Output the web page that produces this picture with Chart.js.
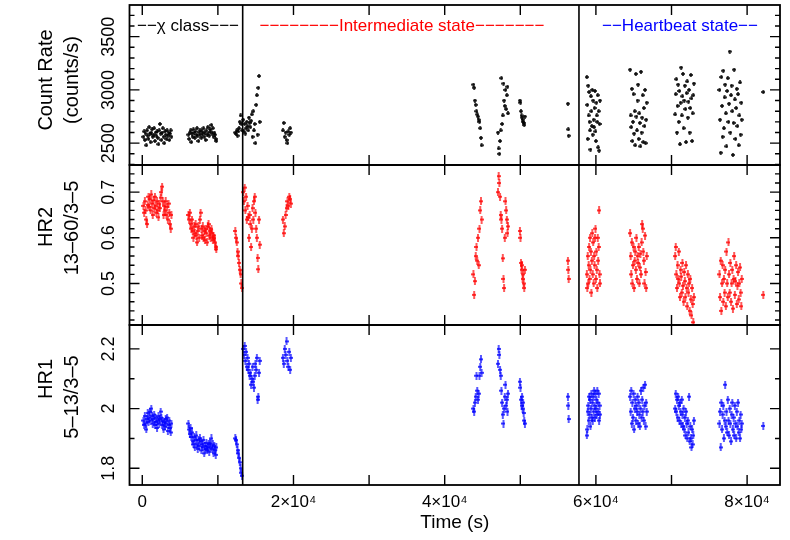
<!DOCTYPE html>
<html>
<head>
<meta charset="utf-8">
<script src="https://cdn.jsdelivr.net/npm/chart.js@4.4.1/dist/chart.umd.min.js"></script>
<style>
  html, body { margin: 0; padding: 0; background: #fff; }
  canvas { display: block; }
</style>
</head>
<body>
<canvas id="lightCurve" width="790" height="540"></canvas>
<script>
// time bins (s), one entry per point; count rate / HR2 / HR1 share the same bins
const time = [
  // chi class
  150,245,340,435,530,625,720,815,910,1005,1100,1195,1290,1385,1480,1575,1670,1765,1860,1955,
  2050,2145,2240,2335,2430,2525,2620,2715,2810,2905,3000,3095,3190,3285,3380,3475,3570,3665,3760,3855,
  6100,6195,6290,6385,6480,6575,6670,6765,6860,6955,7050,7145,7240,7335,7430,7525,7620,7715,7810,7905,
  8000,8095,8190,8285,8380,8475,8570,8665,8760,8855,8950,9045,9140,9235,9330,9425,9520,9615,9710,9790,
  12300,12400,12500,12600,12700,12800,12900,13000,13100,13200,
  // intermediate state
  13350,13445,13540,13635,13730,13825,13920,14015,14110,14205,14300,14395,14490,14585,14680,14775,14870,14965,15060,15155,
  15250,15345,15440,15535,
  18600,18720,18840,18960,19080,19200,19320,19440,19560,19650,
  43800,43900,44000,44100,44200,44300,44400,44500,44600,44700,44800,44880,
  47050,47140,47230,47320,47410,47500,47590,47680,47770,47860,47950,48040,48130,48220,48300,48370,
  49950,50020,50090,50160,50230,50300,50370,50440,50520,50610,
  56300,56350,56400,
  // heartbeat state
  58800,58860,58920,58980,59040,59100,59160,59220,59280,59340,59400,59460,59520,59580,59640,59700,59760,59820,59880,59940,
  60000,60060,60120,60180,60240,60300,60360,60420,60480,60540,
  64520,64600,64670,64750,64820,64900,64980,65050,65130,65200,65280,65360,65430,65510,65580,65660,65740,65810,65890,65960,
  66040,66120,66190,66270,66340,66420,66500,66570,66650,66720,
  70480,70560,70640,70720,70800,70880,70960,71040,71120,71200,71280,71360,71440,71520,71600,71680,71760,71840,71920,72000,
  72080,72160,72240,72320,72400,72480,72560,72640,72720,72800,72880,72960,
  76340,76420,76510,76590,76680,76760,76850,76930,77020,77100,77190,77270,77360,77440,77530,77610,77700,77780,77870,77950,
  78040,78120,78210,78290,78380,78460,78550,78630,78720,78800,78890,78970,79060,79140,79230,79290,
  82140
];

const countRate = [
  2560,2610,2530,2590,2480,2620,2570,2540,2650,2590,2510,2600,2630,2560,2580,2640,2520,2600,2570,2610,
  2550,2490,2620,2680,2590,2530,2600,2640,2560,2500,2610,2580,2540,2620,2570,2600,2530,2590,2620,2560,
  2580,2540,2600,2620,2510,2590,2560,2630,2600,2550,2610,2580,2640,2570,2520,2600,2620,2580,2550,2610,
  2590,2640,2560,2600,2530,2620,2580,2650,2600,2570,2630,2610,2670,2590,2640,2560,2600,2580,2540,2520,
  2600,2590,2620,2570,2610,2640,2700,2760,2680,2620,
  2720,2610,2680,2590,2640,2700,2660,2620,2740,2690,2650,2710,2770,2560,2800,2620,2680,2500,2860,2950,
  2580,3020,3130,2700,
  2620,2690,2560,2600,2530,2500,2610,2580,2640,2600,
  3050,3020,2900,2860,2800,2770,2750,2720,2700,2640,2550,2480,
  2600,2450,2400,2520,2620,3110,2680,2760,3060,2900,2850,3000,2820,2950,3030,2780,
  2900,2880,2800,2760,2740,2720,2700,2690,2670,2750,
  2870,2630,2570,
  3120,2860,2540,3040,2760,2980,2700,2620,2440,2940,2800,2660,3000,2580,2900,2720,2650,2830,2990,2610,
  2520,2880,2760,2700,2950,2460,2800,2430,2680,2900,
  3190,2760,2650,3010,2520,2700,2960,2590,2800,2480,3150,2750,2620,2900,3050,2540,2780,2690,2470,3170,
  2600,2740,2950,2510,2830,2660,3000,2500,2720,2880,
  2770,2960,3100,2600,2850,3050,2700,2990,2490,2880,3210,2760,2940,3150,2640,2900,3040,2820,2510,2970,
  3080,2740,2890,3000,2600,2830,3140,2920,2520,2780,2950,3060,
  3000,2720,2410,3120,2850,2560,3180,2640,2930,3050,2780,2470,2990,3110,2700,2870,3360,2600,2950,3040,
  2800,2390,2690,3190,2910,2540,2830,3010,2660,2960,2480,2760,3070,2580,2880,2720,
  2980
];

const hr2 = [
  0.670,0.655,0.680,0.660,0.640,0.630,0.672,0.690,0.668,0.685,0.660,0.695,0.675,0.650,0.682,0.665,0.690,0.670,0.655,0.680,
  0.660,0.645,0.675,0.665,0.688,0.700,0.712,0.680,0.650,0.670,0.660,0.680,0.650,0.668,0.640,0.675,0.655,0.630,0.620,0.650,
  0.650,0.640,0.655,0.630,0.620,0.640,0.615,0.600,0.625,0.610,0.630,0.605,0.590,0.615,0.625,0.600,0.640,0.655,0.620,0.605,
  0.625,0.600,0.615,0.595,0.620,0.610,0.590,0.625,0.630,0.605,0.615,0.600,0.620,0.610,0.595,0.605,0.600,0.590,0.580,0.575,
  0.615,0.600,0.590,0.570,0.560,0.545,0.530,0.520,0.500,0.490,
  0.700,0.680,0.710,0.660,0.690,0.640,0.670,0.645,0.600,0.650,0.630,0.580,0.620,0.665,0.640,0.680,0.690,0.655,0.620,0.600,
  0.556,0.531,0.640,0.585,
  0.640,0.610,0.625,0.650,0.665,0.680,0.670,0.690,0.685,0.675,
  0.520,0.475,0.505,0.560,0.580,0.550,0.600,0.540,0.620,0.660,0.680,0.640,
  0.700,0.735,0.720,0.690,0.650,0.640,0.620,0.555,0.510,0.490,0.600,0.680,0.660,0.640,0.610,0.625,
  0.615,0.600,0.545,0.530,0.540,0.510,0.520,0.500,0.490,0.530,
  0.550,0.530,0.510,
  0.520,0.490,0.560,0.500,0.540,0.580,0.510,0.600,0.530,0.570,0.480,0.550,0.610,0.520,0.590,0.500,0.560,0.540,0.600,0.620,
  0.510,0.570,0.530,0.490,0.600,0.550,0.580,0.660,0.520,0.500,
  0.610,0.560,0.520,0.590,0.500,0.540,0.580,0.490,0.550,0.570,0.530,0.600,0.510,0.560,0.545,0.580,0.500,0.535,0.565,0.520,
  0.590,0.630,0.620,0.570,0.550,0.500,0.605,0.525,0.490,0.560,
  0.560,0.580,0.520,0.490,0.540,0.510,0.570,0.500,0.470,0.530,0.515,0.480,0.545,0.495,0.460,0.525,0.505,0.470,0.540,0.490,
  0.450,0.520,0.480,0.500,0.440,0.510,0.465,0.430,0.490,0.455,0.415,0.470,
  0.520,0.470,0.550,0.440,0.500,0.540,0.460,0.510,0.480,0.530,0.450,0.570,0.500,0.470,0.590,0.520,0.480,0.545,0.460,0.500,
  0.530,0.445,0.510,0.560,0.475,0.505,0.540,0.455,0.495,0.525,0.465,0.500,0.535,0.480,0.450,0.510,
  0.475
];

const hr1 = [
  1.960,1.945,1.975,1.950,1.930,1.965,1.985,1.955,1.970,1.990,1.960,2.000,1.975,1.950,1.965,1.980,1.945,1.970,1.955,1.935,
  1.960,1.975,1.950,1.965,1.990,1.970,1.945,1.960,1.930,1.955,1.940,1.965,1.950,1.970,1.925,1.945,1.960,1.935,1.920,1.950,
  1.950,1.930,1.915,1.935,1.905,1.920,1.890,1.880,1.905,1.870,1.895,1.910,1.880,1.865,1.895,1.875,1.900,1.890,1.860,1.880,
  1.870,1.895,1.850,1.875,1.865,1.885,1.860,1.870,1.880,1.855,1.885,1.870,1.900,1.865,1.880,1.850,1.875,1.860,1.845,1.870,
  1.900,1.895,1.880,1.860,1.850,1.835,1.820,1.800,1.785,1.775,
  2.200,2.180,2.210,2.160,2.190,2.140,2.170,2.130,2.150,2.110,2.120,2.080,2.100,2.140,2.090,2.070,2.110,2.150,2.130,2.170,
  2.030,2.040,2.120,2.160,
  2.170,2.150,2.200,2.180,2.225,2.160,2.140,2.190,2.130,2.170,
  2.000,1.990,2.020,2.040,2.110,2.060,2.030,2.050,2.110,2.140,2.165,2.120,
  2.150,2.200,2.180,2.130,2.110,2.060,2.020,1.980,1.950,2.000,2.040,2.080,2.010,2.030,1.990,2.050,
  2.090,2.070,2.030,2.010,2.040,2.000,2.020,1.985,1.960,1.950,
  2.040,2.010,1.965,
  1.910,1.930,1.990,2.010,1.960,2.040,1.980,2.030,1.940,2.000,2.050,1.970,2.020,1.960,2.040,1.990,2.060,2.010,1.970,2.050,
  2.000,2.030,1.980,2.060,2.020,1.990,2.050,1.960,2.010,1.980,
  2.040,1.990,2.060,1.950,2.020,1.970,2.050,1.930,2.000,2.030,1.960,2.010,1.990,2.040,1.950,2.020,1.980,1.940,2.000,2.060,
  1.970,2.030,1.990,2.070,1.960,2.010,2.080,1.940,2.020,1.990,
  2.000,2.050,1.990,2.030,1.970,2.040,2.010,1.960,2.020,1.990,1.950,2.030,1.980,1.940,2.000,1.930,1.970,1.910,1.990,1.950,
  1.900,1.960,1.920,2.040,1.890,1.940,1.900,1.870,1.930,1.880,1.910,1.960,
  1.950,1.990,1.870,2.020,1.930,1.980,2.010,1.900,1.960,2.080,1.940,1.990,1.920,2.030,1.960,1.910,2.000,1.950,1.890,1.980,
  2.020,1.930,1.970,1.910,2.010,1.950,1.900,1.990,1.940,2.020,1.920,1.960,1.900,1.980,1.930,1.950,
  1.942
];

// axis ticks
const timeTicks = [0, 20000, 40000, 60000, 80000];
const timeMinorTicks = [0, 10000, 20000, 30000, 40000, 50000, 60000, 70000, 80000];
const rateTicks = [2500, 3000, 3500];
const hr2Ticks = [0.5, 0.6, 0.7];
const hr1Ticks = [1.8, 2.0, 2.2];

// boundaries between states and their labels
const stateBounds = [13280, 57760];
const stateLabels = ['\u2212\u2212\u03c7 class\u2212\u2212\u2212',
  '\u2212\u2212\u2212\u2212\u2212\u2212\u2212\u2212Intermediate state\u2212\u2212\u2212\u2212\u2212\u2212\u2212',
  '\u2212\u2212Heartbeat state\u2212\u2212'];
const stateLabelTimes = [6045, 34350, 71120];
const stateColors = ['#000000', '#ff0000', '#0000ff'];

const FONT = '"Liberation Sans", Arial, Helvetica, sans-serif';

// small error-bar glyphs used as point styles
function mark(color, w, h, lw) {
  const c = document.createElement('canvas');
  c.width = w; c.height = h;
  const g = c.getContext('2d');
  g.strokeStyle = color;
  g.lineWidth = lw;
  g.beginPath();
  g.moveTo(w / 2, 0); g.lineTo(w / 2, h);
  g.moveTo(0, h / 2); g.lineTo(w, h / 2);
  g.stroke();
  return c;
}

// title line centres are offsets from the panel middle
const panels = [
  { id: 'yRate', minor: 100, major: 500, title: ['Count Rate', '(counts/s)'], shift: [-5, -5],
    fmt: v => String(v) },
  { id: 'yHR2', minor: 0.02, major: 0.1, title: ['HR2', '13\u201360/3\u20135'], shift: [-18, -17],
    fmt: v => v.toFixed(1) },
  { id: 'yHR1', minor: 0.1, major: 0.2, title: ['HR1', '5\u201313/3\u20135'], shift: [-26, -8],
    fmt: v => (Math.abs(v - 2) < 1e-9 ? '2' : v.toFixed(1)) }
];

const panelFrames = {
  id: 'panelFrames',
  afterDatasetsDraw(chart) {
    const { ctx, chartArea: area, scales } = chart;
    const xs = scales.x;
    ctx.save();
    ctx.strokeStyle = '#000';
    ctx.fillStyle = '#000';

    ctx.lineWidth = 1.6;
    ctx.beginPath();
    stateBounds.forEach(t => {
      const px = xs.getPixelForValue(t);
      ctx.moveTo(px, area.top);
      ctx.lineTo(px, area.bottom);
    });
    ctx.stroke();

    panels.forEach(p => {
      const ys = scales[p.id];
      const top = ys.top, bottom = ys.bottom;
      ctx.lineWidth = 1.4;
      ctx.beginPath();
      timeMinorTicks.forEach(t => {
        const px = xs.getPixelForValue(t);
        ctx.moveTo(px, top); ctx.lineTo(px, top + 10);
        ctx.moveTo(px, bottom); ctx.lineTo(px, bottom - 10);
      });
      const n0 = Math.ceil(ys.min / p.minor - 1e-6);
      const n1 = Math.floor(ys.max / p.minor + 1e-6);
      for (let n = n0; n <= n1; n++) {
        const v = n * p.minor;
        const py = ys.getPixelForValue(v);
        const r = v / p.major;
        const len = Math.abs(r - Math.round(r)) < 1e-6 ? 10 : 5;
        ctx.moveTo(area.left, py); ctx.lineTo(area.left + len, py);
        ctx.moveTo(area.right, py); ctx.lineTo(area.right - len, py);
      }
      ctx.stroke();

      ctx.lineWidth = 1.8;
      ctx.strokeRect(area.left, top, area.right - area.left, bottom - top);

      ctx.textAlign = 'center';
      ctx.textBaseline = 'middle';
      ctx.font = '18px ' + FONT;
      ys.ticks.forEach(tk => {
        ctx.save();
        ctx.translate(109, ys.getPixelForValue(tk.value));
        ctx.rotate(-Math.PI / 2);
        ctx.fillText(p.fmt(tk.value), 0, 0);
        ctx.restore();
      });

      ctx.font = '20px ' + FONT;
      const mid = (top + bottom) / 2;
      [46, 72].forEach((x, i) => {
        ctx.save();
        ctx.translate(x, mid + p.shift[i]);
        ctx.rotate(-Math.PI / 2);
        ctx.fillText(p.title[i], 0, 0);
        ctx.restore();
      });
    });

    ctx.font = '17px ' + FONT;
    ctx.textAlign = 'center';
    ctx.textBaseline = 'middle';
    const yr = scales.yRate;
    stateLabels.forEach((txt, i) => {
      ctx.fillStyle = stateColors[i];
      ctx.fillText(txt, xs.getPixelForValue(stateLabelTimes[i]), yr.getPixelForValue(3600));
    });
    ctx.restore();
  }
};

function yAxis(min, max, ticks) {
  return {
    type: 'linear', position: 'left', stack: 'panels', stackWeight: 1,
    min: min, max: max,
    grid: { display: false, drawTicks: false },
    border: { display: false },
    ticks: { display: false },
    afterBuildTicks: s => { s.ticks = ticks.map(v => ({ value: v })); },
    afterFit: s => { s.width = 129.5; }
  };
}

const pts = ys => time.map((t, i) => ({ x: t, y: ys[i] }));

new Chart(document.getElementById('lightCurve'), {
  type: 'scatter',
  data: {
    datasets: [
      { label: 'Count rate', data: pts(countRate), yAxisID: 'yRate',
        pointStyle: mark('#000', 4, 4, 1.5), radius: 2 },
      { label: 'HR2', data: pts(hr2), yAxisID: 'yHR2',
        pointStyle: mark('#ff0000', 4, 8, 1.3), radius: 2 },
      { label: 'HR1', data: pts(hr1), yAxisID: 'yHR1',
        pointStyle: mark('#0000ff', 4, 8, 1.3), radius: 2 }
    ]
  },
  options: {
    responsive: false,
    animation: false,
    events: [],
    layout: { padding: { left: 0, right: 10, top: 3, bottom: 0 } },
    plugins: { legend: { display: false }, tooltip: { enabled: false } },
    scales: {
      x: {
        type: 'linear', position: 'bottom', min: -1690, max: 84350,
        grid: { display: false, drawTicks: false },
        border: { display: false },
        afterBuildTicks: s => { s.ticks = timeTicks.map(v => ({ value: v })); },
        ticks: {
          color: '#000', padding: 7, maxRotation: 0, autoSkip: false,
          font: { family: FONT, size: 17 },
          callback: v => (v === 0 ? '0' : (v / 10000) + '\u00d710\u2074')
        },
        title: { display: true, text: 'Time (s)', color: '#000',
          font: { family: FONT, size: 19 }, padding: { top: 0, bottom: 6 } },
        afterFit: s => { s.height = 55; }
      },
      yHR1: yAxis(1.744, 2.28, hr1Ticks),
      yHR2: yAxis(0.409, 0.7595, hr2Ticks),
      yRate: yAxis(2295, 3797, rateTicks)
    }
  },
  plugins: [panelFrames]
});
</script>
</body>
</html>
